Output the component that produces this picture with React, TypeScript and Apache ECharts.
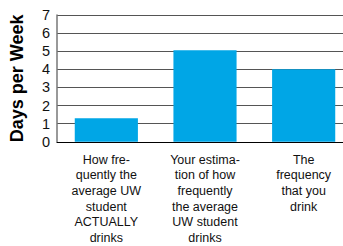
import React, { useEffect, useRef } from "react";
import * as echarts from "echarts";

const categories = [
  "How fre-\nquently the\naverage UW\nstudent\nACTUALLY\ndrinks",
  "Your estima-\ntion of how\nfrequently\nthe average\nUW student\ndrinks",
  "The\nfrequency\nthat you\ndrink",
];
const values = [1.3, 5.05, 4.0];
const yTitle = "Days per Week";

export default function App() {
  const ref = useRef<HTMLDivElement>(null);
  useEffect(() => {
    const chart = echarts.init(ref.current!, null, { renderer: "svg" });
    const font = "'Liberation Sans', Arial, Helvetica, sans-serif";
    chart.setOption({
      animation: false,
      textStyle: { fontFamily: font },
      grid: { left: 57, right: 0, top: 15, bottom: 99, containLabel: false },
      xAxis: {
        type: "category",
        data: categories,
        axisLine: { show: true, lineStyle: { color: "#000", width: 1 } },
        axisTick: { show: false },
        axisLabel: {
          color: "#111",
          fontSize: 12.5,
          lineHeight: 15.7,
          margin: 10,
          interval: 0,
          fontFamily: font,
        },
      },
      yAxis: {
        type: "value",
        min: 0,
        max: 7,
        interval: 1,
        name: yTitle,
        nameLocation: "middle",
        nameGap: 31,
        nameTextStyle: { fontSize: 18, fontWeight: "bold", color: "#000", fontFamily: font },
        axisLine: { show: true, lineStyle: { color: "#777", width: 1.5 } },
        axisTick: { show: false },
        axisLabel: { color: "#111", fontSize: 14.5, margin: 7, fontFamily: font },
        splitLine: { show: true, lineStyle: { color: "#555", width: 1.2 } },
      },
      series: [
        {
          type: "bar",
          data: values,
          barWidth: "64%",
          itemStyle: { color: "#00A6E6" },
        },
      ],
    });
    return () => chart.dispose();
  }, []);
  return (
    <div
      ref={ref}
      style={{ position: "fixed", left: 0, top: 0, width: 353, height: 246, background: "#fff" }}
    />
  );
}
